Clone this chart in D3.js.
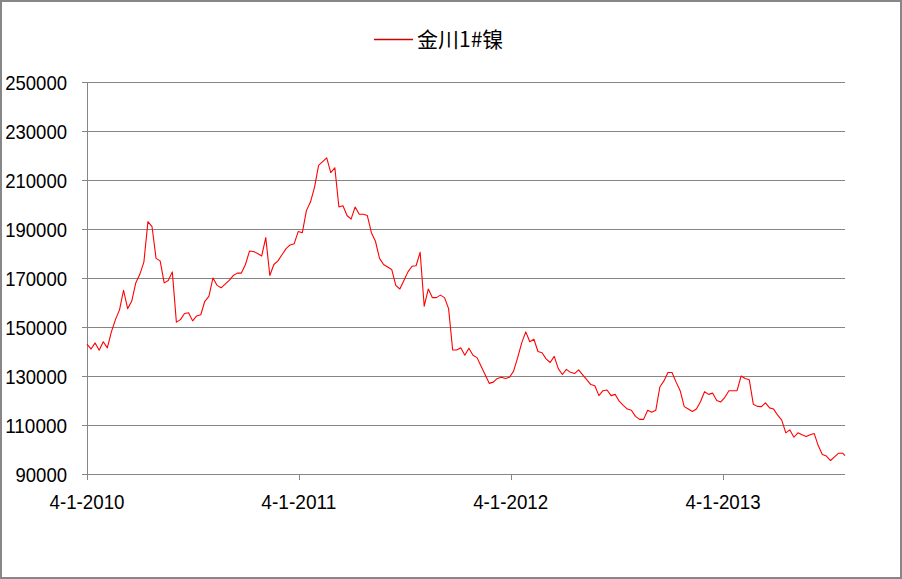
<!DOCTYPE html>
<html>
<head>
<meta charset="utf-8">
<script src="https://cdn.jsdelivr.net/npm/d3@7"></script>
<style>
  html, body { margin: 0; padding: 0; background: #fff; }
  svg { display: block; }
  .lbl { font-family: "Liberation Sans", Arial, sans-serif; font-size: 21px; fill: #000; }
  .leg { font-family: "Noto Sans CJK SC", sans-serif; font-size: 21px; fill: #000; }
</style>
</head>
<body>
<script>
// ---- data ----
const seriesName = "金川1#镍";
const startDate = "2010-01-04";
const endDate = "2013-08-02";
const stepDays = 7;
const yTickValues = [90000, 110000, 130000, 150000, 170000, 190000, 210000, 230000, 250000];
const xTickDates = ["2010-01-04", "2011-01-04", "2012-01-04", "2013-01-04"];
const xTickLabels = ["4-1-2010", "4-1-2011", "4-1-2012", "4-1-2013"];
const weeklyPrices = [
  143000,141000,143500,140500,144000,141500,148000,153000,157000,165000,
  157500,160500,168000,171500,176500,193000,191000,178000,177000,168000,
  169000,172500,152000,153000,155500,155800,152500,154500,155000,160500,
  162500,170000,167000,166000,167500,169000,171000,172000,
  172000,175500,181000,180800,180000,179000,186500,171000,
  175500,177000,179500,182000,183500,184000,189000,188500,197500,201000,
  207000,216000,217500,219000,213000,215000,199000,199500,195500,194000,
  199000,196000,196000,195500,188500,185000,178000,175500,174500,173500,
  167000,165500,169000,172500,174800,175000,180500,158500,165500,162000,
  162000,163000,162000,157500,140600,140600,141500,138500,141300,138500,
  137500,134000,130500,127000,127500,129000,129500,129000,129500,132000,
  137500,143500,148000,144000,145000,140000,
  139500,137000,135500,138000,133000,130600,132700,131500,131000,132500,
  130500,128500,126500,126000,122000,124000,124300,122000,122500,119700,
  118000,116500,116000,113500,112300,112300,116000,115200,116000,125500,
  128000,131400,131400,127500,124000,117500,
  116500,115500,116500,119500,123600,122500,123000,120000,119400,121300,
  124000,124000,124000,130000,129000,128500,118500,117600,117500,119000,
  117000,116500,114000,112000,106800,108000,105000,106800,106000,105300,
  106000,106500,101500,98000,97300,95500,97000,98500,98500,
  97500
];

// ---- build ----
const W = 902, H = 579;
const parse = d3.utcParse("%Y-%m-%d");
const t0 = parse(startDate), t1 = parse(endDate);
const data = weeklyPrices.map((v, i) => {
  let d = d3.utcDay.offset(t0, i * stepDays);
  if (d > t1) d = t1;
  return { date: d, value: v };
});

const svg = d3.select("body").append("svg").attr("width", W).attr("height", H);
svg.append("rect").attr("x", 1).attr("y", 1).attr("width", W - 2).attr("height", H - 2)
  .attr("fill", "#fff").attr("stroke", "#878787").attr("stroke-width", 2);

const plot = { left: 87, right: 845, top: 82, bottom: 474 };
const x = d3.scaleUtc().domain([t0, t1]).range([plot.left, plot.right]);
const y = d3.scaleLinear().domain([90000, 250000]).range([plot.bottom, plot.top]);

// gridlines
svg.append("g").selectAll("line").data(yTickValues).join("line")
  .attr("x1", plot.left - 5).attr("x2", plot.right)
  .attr("y1", d => Math.round(y(d)) + 0.5).attr("y2", d => Math.round(y(d)) + 0.5)
  .attr("stroke", "#868686").attr("stroke-width", 1);

// y axis line
svg.append("line").attr("x1", plot.left + 0.5).attr("x2", plot.left + 0.5)
  .attr("y1", plot.top).attr("y2", plot.bottom + 0.5)
  .attr("stroke", "#868686");

// x ticks
svg.append("g").selectAll("line").data(xTickDates).join("line")
  .attr("x1", d => Math.round(x(parse(d))) + 0.5).attr("x2", d => Math.round(x(parse(d))) + 0.5)
  .attr("y1", plot.bottom).attr("y2", plot.bottom + 6)
  .attr("stroke", "#868686");

// y labels (condensed to match the narrow original face)
const fmt = d3.format("d");
svg.append("g").selectAll("text").data(yTickValues).join("text")
  .attr("class", "lbl").attr("x", 67).attr("y", d => y(d) + 7.5)
  .attr("text-anchor", "end")
  .attr("textLength", d => fmt(d).length * 10.3).attr("lengthAdjust", "spacingAndGlyphs")
  .text(d => fmt(d));

// x labels
svg.append("g").selectAll("text").data(xTickDates).join("text")
  .attr("class", "lbl").attr("x", d => x(parse(d))).attr("y", 509)
  .attr("text-anchor", "middle")
  .attr("textLength", 75).attr("lengthAdjust", "spacingAndGlyphs")
  .text((d, i) => xTickLabels[i]);

// line
const line = d3.line().x(d => x(d.date)).y(d => y(d.value));
svg.append("path").datum(data).attr("d", line)
  .attr("fill", "none").attr("stroke", "#ff0000").attr("stroke-width", 1.1)
  .attr("stroke-linejoin", "round");

// legend
svg.append("line").attr("x1", 374).attr("x2", 413).attr("y1", 39.5).attr("y2", 39.5)
  .attr("stroke", "#d00000").attr("stroke-width", 1.3);
svg.append("text").attr("class", "leg").attr("x", 417).attr("y", 47).text(seriesName);
</script>
</body>
</html>
